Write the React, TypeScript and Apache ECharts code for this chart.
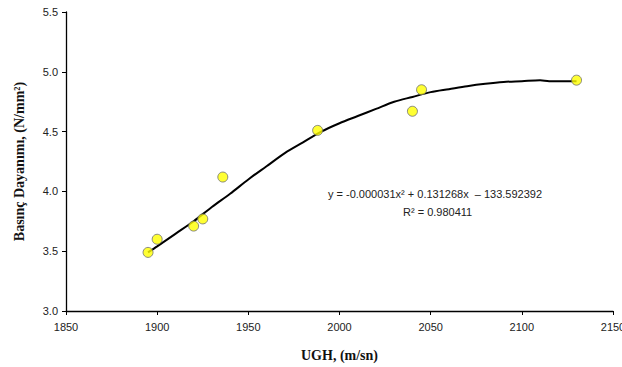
import React, { useEffect, useRef } from "react";
import * as echarts from "echarts";

const xTicks = [1850, 1900, 1950, 2000, 2050, 2100, 2150];
const yTicks = [3.0, 3.5, 4.0, 4.5, 5.0, 5.5];

const pointX = [1895, 1900, 1920, 1925, 1936, 1988, 2040, 2045, 2130];
const pointY = [3.49, 3.6, 3.71, 3.77, 4.12, 4.51, 4.67, 4.85, 4.93];

const trendX = [1895, 1900, 1910, 1920, 1930, 1940, 1950, 1960, 1970, 1980, 1990, 2000, 2010, 2020, 2030, 2040, 2050, 2060, 2070, 2080, 2090, 2100, 2110, 2115, 2130];
const trendY = [3.49, 3.54, 3.645, 3.75, 3.87, 3.98, 4.1, 4.21, 4.32, 4.41, 4.5, 4.57, 4.63, 4.69, 4.75, 4.79, 4.83, 4.855, 4.88, 4.9, 4.915, 4.922, 4.93, 4.922, 4.922];

const equationText = "y = -0.000031x² + 0.131268x  – 133.592392";
const r2Text = "R² = 0.980411";
const xTitle = "UGH, (m/sn)";
const yTitle = "Basınç Dayanımı, (N/mm²)";

export default function App() {
  const ref = useRef<HTMLDivElement>(null);
  useEffect(() => {
    if (!ref.current) return;
    const chart = echarts.init(ref.current, null, { renderer: "svg" });
    const tickFont = { color: "#222", fontSize: 11, fontFamily: "Liberation Sans, Arial, sans-serif" };
    chart.setOption({
      animation: false,
      backgroundColor: "#fff",
      grid: { left: 66, right: 9, top: 12, bottom: 56, containLabel: false, outerBoundsMode: "none" },
      xAxis: {
        type: "value",
        min: xTicks[0],
        max: xTicks[xTicks.length - 1],
        interval: 50,
        name: xTitle,
        nameLocation: "middle",
        nameGap: 37,
        nameTextStyle: { fontFamily: "Liberation Serif, Times New Roman, serif", fontWeight: "bold", fontSize: 14, color: "#111" },
        axisLine: { show: true, lineStyle: { color: "#000", width: 1.3 } },
        axisTick: { show: true, length: 4, lineStyle: { color: "#000" } },
        axisLabel: { ...tickFont, margin: 10, showMaxLabel: true, showMinLabel: true, hideOverlap: false, formatter: (v: number) => String(v) },
        splitLine: { show: false },
      },
      yAxis: {
        type: "value",
        min: yTicks[0],
        max: yTicks[yTicks.length - 1],
        interval: 0.5,
        name: yTitle,
        nameLocation: "middle",
        nameGap: 40,
        nameRotate: 90,
        nameTextStyle: { fontFamily: "Liberation Serif, Times New Roman, serif", fontWeight: "bold", fontSize: 14, color: "#111" },
        axisLine: { show: true, lineStyle: { color: "#000", width: 1.3 } },
        axisTick: { show: true, length: 4, lineStyle: { color: "#000" } },
        axisLabel: { ...tickFont, margin: 8, formatter: (v: number) => v.toFixed(1) },
        splitLine: { show: false },
      },
      series: [
        {
          type: "line",
          data: trendX.map((x, i) => [x, trendY[i]]),
          symbol: "none",
          smooth: 0.3,
          lineStyle: { color: "#000", width: 2 },
          z: 2,
        },
        {
          type: "scatter",
          data: pointX.map((x, i) => [x, pointY[i]]),
          symbol: "circle",
          symbolSize: 10,
          itemStyle: { color: "#ffff00", borderColor: "#6f6f6f", borderWidth: 1 },
          z: 3,
        },
      ],
      graphic: [
        {
          type: "text",
          left: 328,
          top: 188,
          style: { text: equationText, fontSize: 11, fill: "#222", fontFamily: "Liberation Sans, Arial, sans-serif" },
        },
        {
          type: "text",
          left: 403,
          top: 206,
          style: { text: r2Text, fontSize: 11, fill: "#222", fontFamily: "Liberation Sans, Arial, sans-serif" },
        },
      ],
    });
    return () => chart.dispose();
  }, []);
  return <div ref={ref} style={{ position: "absolute", left: 0, top: 0, width: 622, height: 367 }} />;
}
